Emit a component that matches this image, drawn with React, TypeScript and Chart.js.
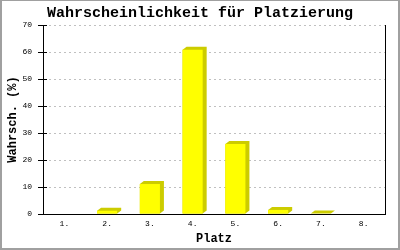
import React, { useEffect, useRef } from "react";
import { Chart, registerables } from "chart.js";

Chart.register(...registerables);

const categories = ["1.", "2.", "3.", "4.", "5.", "6.", "7.", "8."];
const probabilities = [0, 1.2, 11.1, 60.8, 25.9, 1.5, 0.2, 0];
const chartTitle = "Wahrscheinlichkeit für Platzierung";
const xTitle = "Platz";
const yTitle = "Wahrsch. (%)";

const FRONT = "#ffff00";
const SIDE = "#cccc00";
const MONO = "'Liberation Mono', 'DejaVu Sans Mono', monospace";

const bar3d = {
  id: "bar3d",
  beforeDatasetsDraw(chart: any) {
    const ctx = chart.ctx;
    const meta = chart.getDatasetMeta(0);
    const dx = 4;
    const dy = 3;
    ctx.save();
    ctx.fillStyle = SIDE;
    meta.data.forEach((el: any, i: number) => {
      if (!probabilities[i]) return;
      const { x, y, base, width } = el.getProps(["x", "y", "base", "width"], true);
      const l = x - width / 2;
      const r = x + width / 2;
      ctx.beginPath();
      ctx.moveTo(l, y);
      ctx.lineTo(l + dx, y - dy);
      ctx.lineTo(r + dx, y - dy);
      ctx.lineTo(r + dx, base - dy);
      ctx.lineTo(r, base);
      ctx.lineTo(l, base);
      ctx.closePath();
      ctx.fill();
    });
    ctx.restore();
  },
  afterDraw(chart: any) {
    const { ctx, chartArea: a } = chart;
    const ys = chart.scales.y;
    ctx.save();
    ctx.strokeStyle = "#000";
    ctx.lineWidth = 1;
    ctx.beginPath();
    const rx = Math.round(a.right) + 0.5;
    ctx.moveTo(rx, a.top);
    ctx.lineTo(rx, a.bottom);
    ys.ticks.forEach((t: any) => {
      const py = Math.round(ys.getPixelForValue(t.value)) + 0.5;
      ctx.moveTo(a.left, py);
      ctx.lineTo(a.left + 4, py);
    });
    ctx.stroke();
    ctx.fillStyle = "#a0a0a0";
    const W = chart.width;
    const H = chart.height;
    ctx.fillRect(0, 0, W, 1);
    ctx.fillRect(0, 0, 2, H);
    ctx.fillRect(W - 2, 0, 2, H);
    ctx.fillRect(0, H - 2, W, 2);
    ctx.restore();
  },
};

export default function App() {
  const ref = useRef<HTMLCanvasElement | null>(null);
  useEffect(() => {
    document.body.style.margin = "0";
    const canvas = ref.current;
    if (!canvas) return;
    const chart = new Chart(canvas, {
      type: "bar",
      data: {
        labels: categories,
        datasets: [
          {
            data: probabilities,
            backgroundColor: FRONT,
            borderWidth: 0,
            categoryPercentage: 1,
            barPercentage: 0.47,
          },
        ],
      },
      options: {
        responsive: false,
        animation: false,
        layout: { padding: 0 },
        plugins: {
          legend: { display: false },
          tooltip: { enabled: false },
          title: {
            display: true,
            text: chartTitle,
            color: "#000",
            font: { family: MONO, size: 15, weight: "bold" },
            padding: { top: 4, bottom: 3 },
          },
        },
        scales: {
          x: {
            grid: { display: false, drawTicks: false },
            border: { display: true, color: "#000", width: 1 },
            ticks: { color: "#000", font: { family: MONO, size: 8 }, padding: 5 },
            title: {
              display: true,
              text: xTitle,
              color: "#000",
              font: { family: MONO, size: 12, weight: "bold" },
              padding: { top: 0, bottom: 4 },
            },
            afterFit(s: any) {
              s.height = 36;
            },
          },
          y: {
            min: 0,
            max: 70,
            ticks: { stepSize: 10, color: "#000", font: { family: MONO, size: 8 }, padding: 6 },
            grid: {
              color: (c: any) => (c.tick && c.tick.value === 0 ? "rgba(0,0,0,0)" : "#c0c0c0"),
              tickColor: "#000",
              tickLength: 5,
            },
            border: { display: true, color: "#000", width: 1, dash: [2, 3] },
            title: {
              display: true,
              text: yTitle,
              color: "#000",
              font: { family: MONO, size: 12, weight: "bold" },
              padding: { top: 6, bottom: 0 },
            },
            afterFit(s: any) {
              s.width = 43;
            },
          },
          yRight: {
            position: "right",
            display: true,
            min: 0,
            max: 70,
            ticks: { display: false },
            grid: { display: false, drawTicks: false },
            border: { display: false },
            afterFit(s: any) {
              s.width = 15;
            },
          },
        },
      },
      plugins: [bar3d],
    });
    return () => chart.destroy();
  }, []);
  return <canvas ref={ref} width={400} height={250} style={{ display: "block" }} />;
}
